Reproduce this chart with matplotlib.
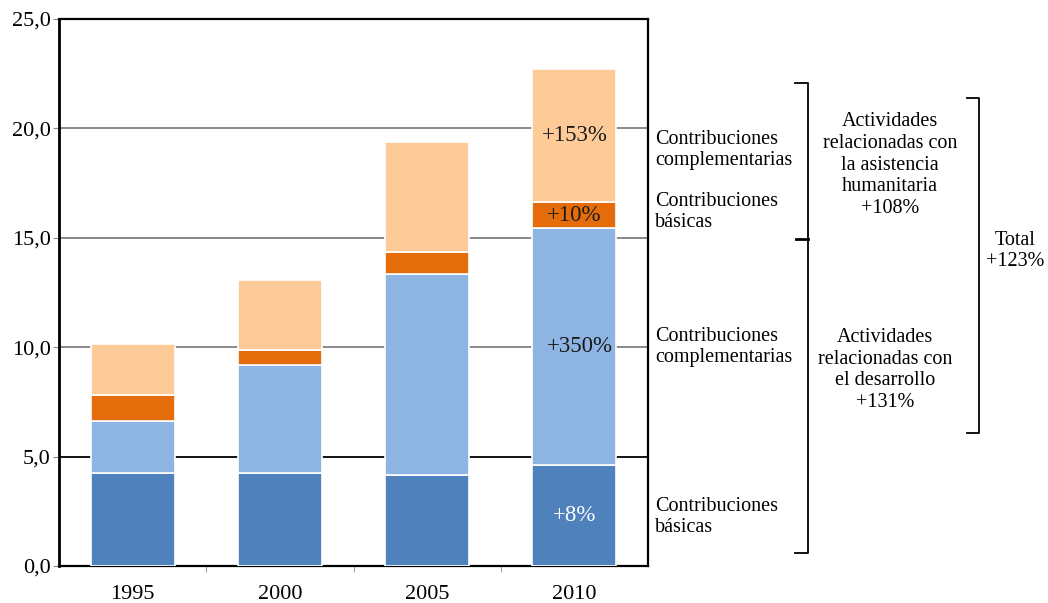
import numpy as np
import matplotlib
matplotlib.use("Agg")
import matplotlib.pyplot as plt
from matplotlib.lines import Line2D
from matplotlib.ticker import FuncFormatter

plt.rcParams["font.family"] = ["Liberation Serif", "DejaVu Serif"]

# --- Data ---
years = ["1995", "2000", "2005", "2010"]
dev_basic = [4.24, 4.24, 4.16, 4.60]
dev_compl = [2.39, 4.93, 9.17, 10.83]
hum_basic = [1.18, 0.72, 1.03, 1.22]
hum_compl = [2.35, 3.17, 5.02, 6.05]
layer_names = ["Contribuciones básicas", "Contribuciones complementarias",
               "Contribuciones básicas", "Contribuciones complementarias"]
change_labels = ["+8%", "+350%", "+10%", "+153%"]

colors = ["#4F81BD", "#8EB4E3", "#E46C0A", "#FECB98"]
label_colors = ["white", "#1a1a1a", "#1a1a1a", "#1a1a1a"]

fig = plt.figure(figsize=(10.48, 6.03), dpi=100)
ax = fig.add_axes([59 / 1048, 1 - 566 / 603, 589 / 1048, 547 / 603])

x = np.arange(len(years))
layers = [dev_basic, dev_compl, hum_basic, hum_compl]
bottom = np.zeros(len(years))
mids = []
for vals, col in zip(layers, colors):
    vals = np.array(vals)
    ax.bar(x, vals, bottom=bottom, width=0.57, color=col, edgecolor="white",
           linewidth=1.2, zorder=3)
    mids.append(bottom[-1] + vals[-1] / 2)
    bottom = bottom + vals

# percent changes inside the 2010 bar
offs = [0.0, 0.04, 0.0, 0.0]
for m, lab, c, o in zip(mids, change_labels, label_colors, offs):
    ax.text(x[-1] + o, m, lab, ha="center", va="center", fontsize=16.5, color=c, zorder=4)

ax.set_xlim(-0.5, 3.5)
ax.set_ylim(0, 25)
ax.set_yticks([0, 5, 10, 15, 20, 25])
ax.yaxis.set_major_formatter(FuncFormatter(lambda v, p: f"{v:.1f}".replace(".", ",")))
ax.set_xticks(x)
ax.set_xticklabels(years)
ax.set_xticks([0.5, 1.5, 2.5], minor=True)
ax.tick_params(axis="x", which="major", length=0, labelsize=16, pad=14)
ax.tick_params(axis="x", which="minor", length=4, color="#888888")
ax.tick_params(axis="y", length=4, color="#888888", labelsize=16, pad=2)

ax.grid(axis="y", color="#808080", linewidth=1.3, zorder=0)
gl = ax.get_ygridlines()
gl[1].set_color("black")
for s in ax.spines.values():
    s.set_linewidth(1.6)
    s.set_color("black")
ax.spines["left"].set_linewidth(2.0)


def fx(px):
    return px / 1048


def fy(py):
    return 1 - py / 603


# layer names to the right of the axes
name_y = [517, 347, 212, 150]
for n, py in zip(layer_names, name_y):
    first, second = n.split(" ")
    fig.text(fx(655), fy(py), first + "\n" + second, ha="left", va="center",
             fontsize=14.5, linespacing=1.2)


def bracket(xp, ytop, ybot, tick=13, lw=1.3):
    fig.add_artist(Line2D([fx(xp - tick), fx(xp), fx(xp), fx(xp - tick)],
                          [fy(ytop), fy(ytop), fy(ybot), fy(ybot)],
                          color="black", linewidth=lw, transform=fig.transFigure))


bracket(808, 83, 553)
fig.add_artist(Line2D([fx(796), fx(808)], [fy(239), fy(239)], color="black",
                      linewidth=2.0, transform=fig.transFigure))
bracket(979, 98, 433, tick=12)

fig.text(fx(890), fy(165), "Actividades\nrelacionadas con\nla asistencia\nhumanitaria\n+108%",
         ha="center", va="center", fontsize=14.5, linespacing=1.2)
fig.text(fx(885), fy(370), "Actividades\nrelacionadas con\nel desarrollo\n+131%",
         ha="center", va="center", fontsize=14.5, linespacing=1.2)
fig.text(fx(1015), fy(251), "Total\n+123%", ha="center", va="center",
         fontsize=14.5, linespacing=1.2)

fig.savefig("out.png", dpi=100)
